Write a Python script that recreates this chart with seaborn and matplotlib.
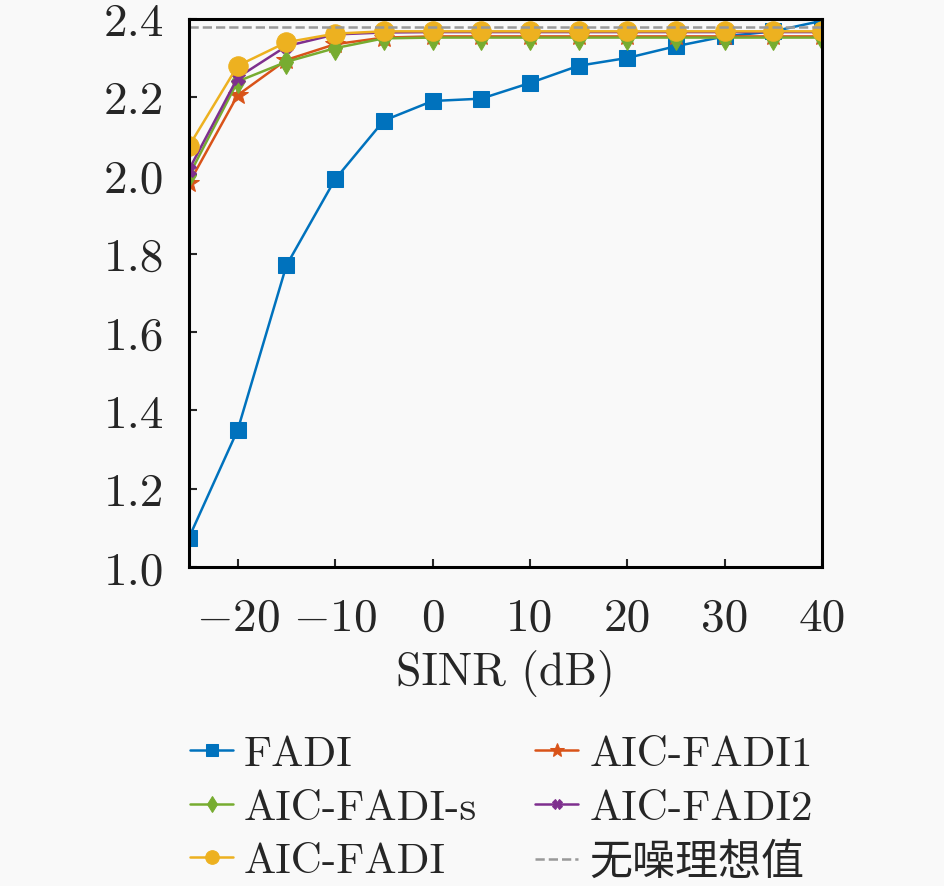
import matplotlib
matplotlib.use('Agg')
from matplotlib import pyplot as plt
import seaborn as sns
import numpy as np
import pandas as pd

# 数据
sinr = [-25, -20, -15, -10, -5, 0, 5, 10, 15, 20, 25, 30, 35, 40]
fadi = [1.075, 1.35, 1.77, 1.99, 2.14, 2.19, 2.196, 2.236, 2.28, 2.30, 2.33, 2.355, 2.368, 2.395]
aic_fadi1 = [1.98, 2.205, 2.295, 2.335, 2.352, 2.355, 2.355, 2.355, 2.355, 2.355, 2.355, 2.355, 2.355, 2.355]
aic_fadi_s = [2.00, 2.24, 2.29, 2.325, 2.35, 2.352, 2.352, 2.352, 2.352, 2.352, 2.352, 2.352, 2.352, 2.352]
aic_fadi2 = [2.015, 2.25, 2.33, 2.36, 2.365, 2.366, 2.366, 2.366, 2.366, 2.366, 2.366, 2.366, 2.366, 2.366]
aic_fadi = [2.075, 2.28, 2.34, 2.362, 2.368, 2.368, 2.368, 2.368, 2.368, 2.368, 2.368, 2.368, 2.368, 2.368]
ideal = 2.378

sns.set_theme(style='white')
plt.rcParams['font.family'] = ['cmr10', 'Noto Sans CJK SC']
plt.rcParams['mathtext.fontset'] = 'cm'
plt.rcParams['axes.formatter.use_mathtext'] = True
plt.rcParams['axes.unicode_minus'] = True

fig = plt.figure(figsize=(9.45, 8.87), dpi=100)
fig.patch.set_facecolor('#f9f9f9')
ax = fig.add_axes([0.2, 0.3597, 0.67, 0.618])
ax.set_facecolor('#f9f9f9')

# 画各条曲线 (顺序: 先FADI, 最后AIC-FADI在最上层)
series = [
    ('FADI', fadi, '#0072BD', 's', 12),
    ('AIC-FADI1', aic_fadi1, '#D95319', '*', 15),
    ('AIC-FADI-s', aic_fadi_s, '#77AC30', 'd', 12),
    ('AIC-FADI2', aic_fadi2, '#7E2F8E', 'X', 10),
    ('AIC-FADI', aic_fadi, '#EDB120', 'o', 14),
]
handles = {}
for name, vals, color, mk, ms in series:
    df = pd.DataFrame({'SINR': sinr, 'val': vals})
    sns.lineplot(data=df, x='SINR', y='val', ax=ax, color=color, marker=mk,
                 markersize=ms, markeredgecolor=color, linewidth=1.8, label=name)
handles_list, labels_list = ax.get_legend_handles_labels()
for h, l in zip(handles_list, labels_list):
    handles[l] = h

idealLine = ax.axhline(ideal, color='#999999', linestyle='--', linewidth=1.8, label='无噪理想值')
handles['无噪理想值'] = idealLine

ax.set_xlim(-25, 40)
ax.set_ylim(1.0, 2.4)
ax.set_xticks([-20, -10, 0, 10, 20, 30, 40])
ax.set_yticks([1.0, 1.2, 1.4, 1.6, 1.8, 2.0, 2.2, 2.4])
ax.set_yticklabels(['1.0', '1.2', '1.4', '1.6', '1.8', '2.0', '2.2', '2.4'])
ax.set_xticklabels(['$-20$', '$-10$', '0', '10', '20', '30', '40'])
ax.tick_params(direction='in', length=6, width=1.5, labelsize=34,
               bottom=True, left=True)
ax.tick_params(axis='x', pad=22)
ax.tick_params(axis='y', pad=18)
for sp in ax.spines.values():
    sp.set_color('black')
    sp.set_linewidth(2.2)
ax.set_xlabel('SINR (dB)', fontsize=33, labelpad=7)
ax.set_ylabel('')

order = ['FADI', 'AIC-FADI-s', 'AIC-FADI', 'AIC-FADI1', 'AIC-FADI2', '无噪理想值']
ax.legend([handles[k] for k in order], order, ncol=2, frameon=False,
          fontsize=31, loc='upper left', bbox_to_anchor=(190 / 945, 1 - 736 / 887),
          bbox_transform=fig.transFigure, borderaxespad=0, borderpad=0,
          handlelength=1.0, handletextpad=0.25, columnspacing=1.35, labelspacing=0.36,
          markerscale=0.7)

fig.savefig('out.png', dpi=100, facecolor=fig.get_facecolor())
